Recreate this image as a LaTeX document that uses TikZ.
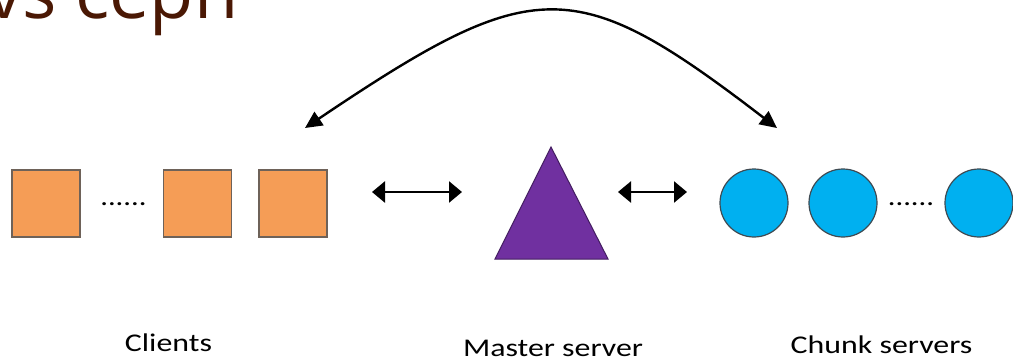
\documentclass[tikz,border=0pt]{standalone}
\usepackage{fontspec}
\setmainfont{Carlito}
\newfontfamily\titlefont{Open Sans}
\usetikzlibrary{arrows.meta}
\definecolor{titlebrown}{HTML}{4A1804}
\definecolor{clientorange}{HTML}{F59D56}
\definecolor{orangeedge}{HTML}{6E6259}
\definecolor{masterpurple}{HTML}{7030A0}
\definecolor{chunkblue}{HTML}{00B0F0}
\definecolor{blueedge}{HTML}{3F4A52}
\tikzset{
  client/.style={draw=orangeedge, line width=1.3pt, fill=clientorange, minimum width=68pt, minimum height=67pt, inner sep=0pt},
  chunk/.style={circle, draw=blueedge, line width=1.2pt, fill=chunkblue, minimum size=68pt, inner sep=0pt},
  master/.style={draw=masterpurple!60!black, line width=1pt, fill=masterpurple},
  lbl/.style={font=\fontsize{25.5}{30}\selectfont, anchor=base, xscale=1.25, inner sep=0pt},
  dotsl/.style={font=\fontsize{25.5}{30}\selectfont, anchor=base, xscale=1.2, inner sep=0pt},
  dbl/.style={line width=2.4pt, {Triangle[length=13pt,width=21pt]}-{Triangle[length=13pt,width=21pt]}},
  arc/.style={line width=2.4pt, {Triangle[length=17pt,width=16pt]}-{Triangle[length=17pt,width=16pt]}},
}
\begin{document}
\begin{tikzpicture}[x=1pt,y=-1pt]
\useasboundingbox (0,0) rectangle (1013,361);
\fill[white] (0,0) rectangle (1013,361);
\clip (0,0) rectangle (1013,361);
% title (cut off at the top edge, as in the reference)
\node[anchor=base west, inner sep=0pt, text=titlebrown, font=\titlefont\fontsize{72}{80}\selectfont] (title) at (-14,19) {vs ceph};
% clients
\node[client] (c1) at (46,203.5) {};
\node[client] (c2) at (197.5,203.5) {};
\node[client] (c3) at (293,203.5) {};
\node[dotsl] (cdots) at (123.5,205) {......};
% master
\coordinate (mtop) at (551,147);
\coordinate (mr) at (608,259);
\coordinate (ml) at (495,259);
\draw[master] (mtop) -- (mr) -- (ml) -- cycle;
% chunk servers
\node[chunk] (s1) at (754,203) {};
\node[chunk] (s2) at (843,203) {};
\node[chunk] (s3) at (979,203) {};
\node[dotsl] (sdots) at (911,205) {......};
% connectors
\coordinate (a1) at (372,192);
\coordinate (a2) at (462,192);
\coordinate (b1) at (618,192);
\coordinate (b2) at (687,192);
\draw[dbl] (a1) -- (a2);
\draw[dbl] (b1) -- (b2);
\coordinate (t1) at (305,128);
\coordinate (t2) at (777,128);
\draw[arc] (t1) .. controls (535,-27) and (575,-27) .. (t2);
% labels
\node[lbl] (lclients) at (168.5,351) {Clients};
\node[lbl] (lmaster) at (553,356) {Master server};
\node[lbl] (lchunk) at (881.5,353) {Chunk servers};
\end{tikzpicture}
\end{document}
